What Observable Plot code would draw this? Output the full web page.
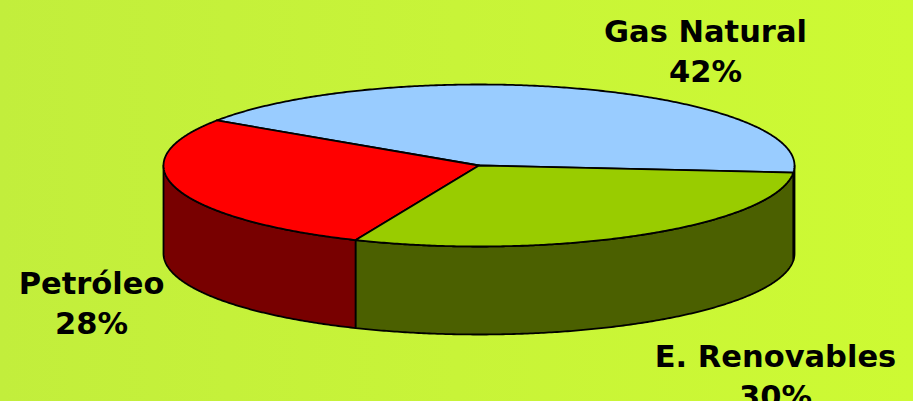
<!DOCTYPE html>
<html>
<head>
<meta charset="utf-8">
<script src="https://cdn.jsdelivr.net/npm/d3@7"></script>
<script src="https://cdn.jsdelivr.net/npm/@observablehq/plot@0.6"></script>
<style>
  html, body { margin: 0; padding: 0; width: 913px; height: 401px; overflow: hidden;
    background: linear-gradient(90deg, #c2ee3c 0%, #c8f438 50%, #cdfa33 100%); }
  #chart svg { display: block; }
</style>
</head>
<body>
<div id="chart"></div>
<script>
// ---- data ----
const categories = ["Gas Natural", "Petróleo", "E. Renovables"];
const values = [42, 28, 30];
const valueLabels = ["42%", "28%", "30%"];
const topColors = ["#99ccff", "#ff0000", "#99cc00"];
const sideColors = ["#5f7a9a", "#780000", "#4b6000"];

// ---- layout (pixels) ----
const W = 913, H = 401;
const CX = 478.5, CY = 165, RX = 315.5, RY = 81, DEPTH = 88;
const START = 5; // degrees, screen angle (clockwise from 3 o'clock) where first slice begins
const labelAnchors = [[705, 13.5], [91, 265.5], [775, 338.5]];

// ---- geometry from data ----
const total = d3.sum(values);
const rad = d => d * Math.PI / 180;
let acc = 0;
const slices = values.map((v, i) => {
  const a0 = START - acc / total * 360;
  acc += v;
  const a1 = START - acc / total * 360;
  return {i, lo: Math.min(a0, a1), hi: Math.max(a0, a1)};
});

function arcPts(lo, hi) {
  const n = Math.max(2, Math.ceil((hi - lo) / 0.5));
  return d3.range(n + 1).map(k => lo + (hi - lo) * k / n);
}

const D = DEPTH / RY;
const tops = [];
const sides = [];
slices.forEach(s => {
  const id = "top" + s.i;
  tops.push({id, color: topColors[s.i], x: 0, y: 0});
  arcPts(s.lo, s.hi).forEach(a => tops.push({id, color: topColors[s.i], x: Math.cos(rad(a)), y: Math.sin(rad(a))}));
  tops.push({id, color: topColors[s.i], x: 0, y: 0});
  // visible (front) part of the outer wall: screen angles in [k*360, k*360+180]
  for (const k of [-2, -1, 0, 1]) {
    const lo = Math.max(s.lo, k * 360), hi = Math.min(s.hi, k * 360 + 180);
    if (hi - lo > 0.01) {
      const sid = "side" + s.i + "_" + k;
      const pts = arcPts(lo, hi);
      const ring = [];
      pts.forEach(a => ring.push([Math.cos(rad(a)), Math.sin(rad(a))]));
      pts.slice().reverse().forEach(a => ring.push([Math.cos(rad(a)), Math.sin(rad(a)) + D]));
      ring.push(ring[0]);
      ring.forEach(([x, y]) => sides.push({id: sid, color: sideColors[s.i], x, y}));
    }
  }
});

const labels = categories.map((c, i) => ({
  text: c + "\n" + valueLabels[i],
  x: (labelAnchors[i][0] - CX) / RX,
  y: (labelAnchors[i][1] - CY) / RY
}));

const chart = Plot.plot({
  width: W, height: H,
  margin: 0,
  style: {background: "none", overflow: "visible"},
  x: {domain: [-1, 1], range: [CX - RX, CX + RX], axis: null},
  y: {domain: [-1, 1], range: [CY - RY, CY + RY], axis: null},
  color: {type: "identity"},
  marks: [
    Plot.line(sides, {x: "x", y: "y", z: "id", fill: "color", stroke: "#000", strokeWidth: 1.8, strokeLinejoin: "round", curve: "linear"}),
    Plot.line(tops, {x: "x", y: "y", z: "id", fill: "color", stroke: "#000", strokeWidth: 1.8, strokeLinejoin: "round", curve: "linear"}),
    Plot.text(labels, {x: "x", y: "y", text: "text", textAnchor: "middle", lineAnchor: "top", lineHeight: 1.31,
      fontFamily: "DejaVu Sans", fontWeight: "bold", fontSize: 30.5, fill: "#000"})
  ]
});
document.getElementById("chart").appendChild(chart);
</script>
</body>
</html>
